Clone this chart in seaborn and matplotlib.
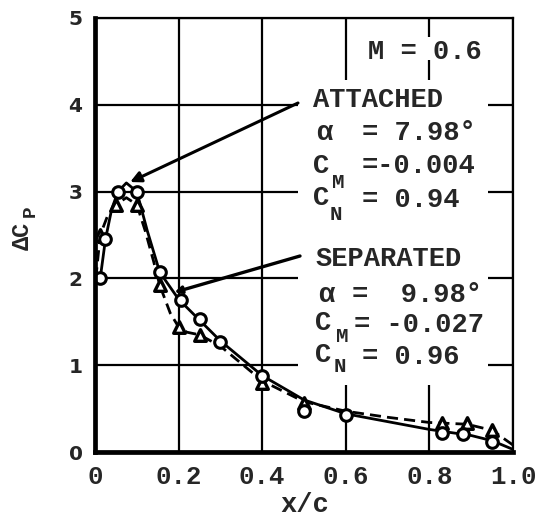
import numpy as np
import pandas as pd
import matplotlib
matplotlib.use("Agg")
import matplotlib.pyplot as plt
from matplotlib.patches import Rectangle
import seaborn as sns

# Measured pressure-difference points, M = 0.6
x_attached = [0.0125, 0.025, 0.055, 0.10, 0.155, 0.205, 0.25, 0.30, 0.40, 0.50, 0.60, 0.83, 0.88, 0.95]
cp_attached = [2.00, 2.45, 3.00, 3.00, 2.07, 1.75, 1.53, 1.27, 0.88, 0.47, 0.43, 0.22, 0.21, 0.12]

x_separated = [0.0125, 0.05, 0.10, 0.155, 0.20, 0.25, 0.40, 0.50, 0.83, 0.89, 0.95]
cp_separated = [2.50, 2.85, 2.85, 1.92, 1.44, 1.35, 0.80, 0.56, 0.33, 0.33, 0.25]

# Faired curves through the data
x_fair_att = [0.0125, 0.025, 0.04, 0.055, 0.075, 0.10, 0.125, 0.155, 0.20, 0.25, 0.30,
              0.40, 0.50, 0.60, 0.70, 0.80, 0.90, 0.95, 1.00]
cp_fair_att = [2.00, 2.45, 2.80, 3.00, 3.10, 3.00, 2.55, 2.07, 1.76, 1.52, 1.28,
               0.88, 0.60, 0.44, 0.35, 0.26, 0.19, 0.13, 0.03]

x_fair_sep = [0.002, 0.0125, 0.03, 0.05, 0.075, 0.10, 0.12, 0.14, 0.155, 0.18, 0.20,
              0.22, 0.25, 0.30, 0.40, 0.50, 0.60, 0.70, 0.80, 0.89, 0.95, 1.00]
cp_fair_sep = [2.00, 2.50, 2.72, 2.85, 2.93, 2.85, 2.55, 2.20, 1.92, 1.60, 1.44,
               1.38, 1.35, 1.22, 0.82, 0.58, 0.47, 0.40, 0.34, 0.32, 0.25, 0.08]

x_ticks = [0, 0.2, 0.4, 0.6, 0.8, 1.0]
x_tick_labels = ["0", "0.2", "0.4", "0.6", "0.8", "1.0"]
y_ticks = [0, 1, 2, 3, 4, 5]

sns.set_theme(style="white")
plt.rcParams["font.family"] = ["DejaVu Sans"]
MONO = "Liberation Mono"
W, H = 546, 524

fig = plt.figure(figsize=(W / 100, H / 100), dpi=100)
ax = fig.add_axes([95 / W, 1 - 452 / H, (513 - 95) / W, (452 - 18) / H])

pts_att = pd.DataFrame({"x": x_attached, "cp": cp_attached})
pts_sep = pd.DataFrame({"x": x_separated, "cp": cp_separated})
fair_att = pd.DataFrame({"x": x_fair_att, "cp": cp_fair_att})
fair_sep = pd.DataFrame({"x": x_fair_sep, "cp": cp_fair_sep})

# grid
ax.set_xlim(0, 1.0)
ax.set_ylim(0, 5)
ax.set_xticks(x_ticks)
ax.set_yticks(y_ticks)
ax.grid(True, color="black", linewidth=1.6, zorder=0.5)
ax.set_axisbelow(True)

# blank panel behind the annotation block
ax.add_patch(Rectangle((0.485, 0.77), 0.94 - 0.485, 4.28 - 0.77,
                       facecolor="white", edgecolor="none", zorder=1))
ax.add_patch(Rectangle((0.64, 4.52), 0.95 - 0.64, 4.78 - 4.52,
                       facecolor="white", edgecolor="none", zorder=1))

sns.lineplot(data=fair_att, x="x", y="cp", ax=ax, sort=False, estimator=None,
             color="black", linewidth=2.0, zorder=3)
sns.lineplot(data=fair_sep, x="x", y="cp", ax=ax, sort=False, estimator=None,
             color="black", linewidth=2.0, zorder=3, dashes=False)
ax.lines[-1].set_linestyle((0, (4, 2.2)))

sns.scatterplot(data=pts_sep, x="x", y="cp", ax=ax, marker="^", s=70,
                facecolor="white", edgecolor="black", linewidth=2.4, zorder=4)
sns.scatterplot(data=pts_att, x="x", y="cp", ax=ax, marker="o", s=70,
                facecolor="white", edgecolor="black", linewidth=2.2, zorder=5)

# spines
for side in ["left", "bottom"]:
    ax.spines[side].set_linewidth(3.4)
for side in ["top", "right"]:
    ax.spines[side].set_linewidth(1.6)
for s in ax.spines.values():
    s.set_color("black")
    s.set_zorder(6)

ax.tick_params(axis="both", length=0)
ax.set_yticklabels([str(v) for v in y_ticks], fontsize=14.5, fontweight="bold")
ax.tick_params(axis="y", pad=9)
ax.set_xticklabels(x_tick_labels, fontsize=18.5, family=MONO, fontweight="bold")
ax.tick_params(axis="x", pad=9)
ax.set_xlabel("")
ax.set_ylabel("")


def ftext(px, py, s, size=19.5, **kw):
    fig.text(px / W, 1 - py / H, s, fontsize=size, family=MONO,
             fontweight="bold", va="center", ha="left", **kw)


# axis titles
ftext(280, 505, "x/c", size=19.5)
fig.text(22 / W, 1 - 236 / H, "\u0394C", fontsize=17, family=MONO, fontweight="bold",
         rotation=90, ha="center", va="center")
fig.text(30 / W, 1 - 211 / H, "P", fontsize=14, family=MONO, fontweight="bold",
         rotation=90, ha="center", va="center")

# annotation block
ftext(368, 52, "M = 0.6")

ftext(313, 100, "ATTACHED")
ftext(316, 133, "\u03b1")
ftext(362, 133, "= 7.98\u00b0")
ftext(313, 166, "C")
ftext(332, 182, "M", size=15)
ftext(362, 166, "=-0.004")
ftext(313, 198, "C")
ftext(330, 215, "N", size=15)
ftext(362, 200, "= 0.94")

ftext(315, 259, "SEPARATED")
ftext(318, 295, "\u03b1")
ftext(352, 295, "=  9.98\u00b0")
ftext(315, 323, "C")
ftext(336, 337, "M", size=15)
ftext(354, 325, "= -0.027")
ftext(315, 355, "C")
ftext(334, 367, "N", size=15)
ftext(362, 357, "= 0.96")

# leader arrows
ax.annotate("", xy=(0.084, 3.11), xycoords="data",
            xytext=(298 / W, 1 - 103 / H), textcoords="figure fraction",
            arrowprops=dict(arrowstyle="-|>", color="black", lw=2.2,
                            mutation_scale=16, shrinkA=0, shrinkB=0), zorder=7)
ax.annotate("", xy=(0.19, 1.84), xycoords="data",
            xytext=(300 / W, 1 - 256 / H), textcoords="figure fraction",
            arrowprops=dict(arrowstyle="-|>", color="black", lw=2.4,
                            mutation_scale=10, shrinkA=0, shrinkB=0), zorder=7)

fig.savefig("out.png", dpi=100, facecolor="white")
